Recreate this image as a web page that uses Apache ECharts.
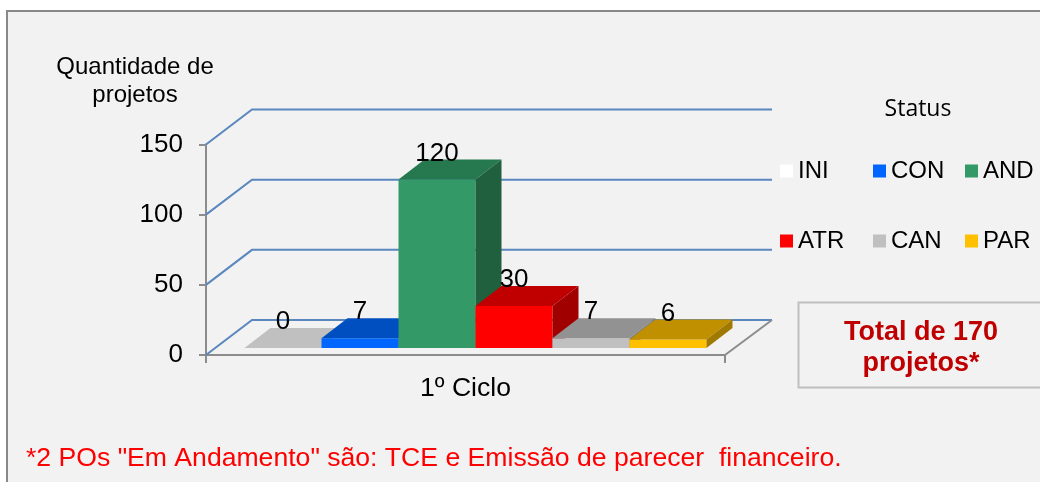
<!DOCTYPE html>
<html><head><meta charset="utf-8">
<style>html,body{margin:0;padding:0;background:#fff}#c{width:1040px;height:482px}</style>
<script src="https://cdn.jsdelivr.net/npm/echarts@6/dist/echarts.min.js"></script>
</head><body><div id="c"></div>
<script>
const categories = ['1º Ciclo'];
const statusNames = ['INI','CON','AND','ATR','CAN','PAR'];
const statusValues = [0,7,120,30,7,6];
const frontColors = ['#ffffff','#0066ff','#339966','#ff0000','#c0c0c0','#ffc000'];
const topColors = ['#c0c0c0','#004fc0','#26784f','#c00000','#929292','#c09000'];
const sideColors = ['#a0a0a0','#003f9a','#20603f','#a00000','#7a7a7a','#a07a00'];
const gridTicks = [0,50,100,150];
const FONT = '"Liberation Sans", Arial, sans-serif';
const WALL_DX = 46, WALL_DY = -35;
const BAR_DX = 26, BAR_DY = -20;
const INSET_DX = 10, INSET_DY = -7;
const BAR_W = 77;
const LINE_BLUE = '#5b87bf', AXIS_GRAY = '#8c8c8c';

function wallItem(params, api) {
  const p = api.coord([0, api.value(1)]);
  const w = api.size([1, 0])[0];
  const x0 = p[0] - w / 2, y = p[1];
  const kids = [{
    type: 'polyline',
    shape: { points: [[x0, y], [x0 + WALL_DX, y + WALL_DY], [x0 + w + WALL_DX + 1, y + WALL_DY]] },
    style: { stroke: LINE_BLUE, lineWidth: 2, fill: null }
  }];
  if (api.value(1) === 0) {
    kids.push({ type: 'line', shape: { x1: x0 + w, y1: y, x2: x0 + w + WALL_DX + 1, y2: y + WALL_DY },
      style: { stroke: AXIS_GRAY, lineWidth: 2 } });
  }
  return { type: 'group', children: kids };
}
function barItem(i) {
  return function (params, api) {
    const v = api.value(1);
    const top = api.coord([0, v]);
    const base = api.coord([0, 0]);
    const x0 = top[0] + (i - 3) * BAR_W + INSET_DX;
    const x1 = x0 + BAR_W;
    const yb = base[1] + INSET_DY, yt = top[1] + INSET_DY;
    const kids = [];
    if (yb - yt > 0.1) kids.push({ type: 'rect', shape: { x: x0, y: yt, width: BAR_W, height: yb - yt }, style: { fill: frontColors[i] } });
    kids.push({ type: 'polygon', shape: { points: [[x0, yt], [x1, yt], [x1 + BAR_DX, yt + BAR_DY], [x0 + BAR_DX, yt + BAR_DY]] }, style: { fill: topColors[i] } });
    if (yb - yt > 0.1) kids.push({ type: 'polygon', shape: { points: [[x1, yt], [x1 + BAR_DX, yt + BAR_DY], [x1 + BAR_DX, yb + BAR_DY], [x1, yb]] }, style: { fill: sideColors[i] } });
    kids.push({ type: 'text', z2: 10, style: { text: String(v), x: (x0 + x1) / 2, y: yt - 26, align: 'center', verticalAlign: 'middle', fill: '#000', font: '26px ' + FONT } });
    return { type: 'group', children: kids };
  };
}
const chart = echarts.init(document.getElementById('c'), null, { renderer: 'canvas' });
const legendBase = { orient: 'vertical', top: 159, itemWidth: 13, itemHeight: 13, itemGap: 46, icon: 'rect', selectedMode: false,
  textStyle: { fontFamily: FONT, fontSize: 24, color: '#000' }, padding: 0 };
const total = ['Total de 170', 'projetos*'].join('\n');
chart.setOption({
  animation: false,
  backgroundColor: '#ffffff',
  grid: { left: 206, right: 315, top: 144.5, bottom: 127 },
  xAxis: { type: 'category', data: categories, boundaryGap: true,
    axisLine: { lineStyle: { color: AXIS_GRAY, width: 2 } },
    axisTick: { show: true, length: 8, alignWithLabel: false, lineStyle: { color: AXIS_GRAY, width: 2 } },
    axisLabel: { color: '#000', fontFamily: FONT, fontSize: 26.6, margin: 20 } },
  yAxis: { type: 'value', min: 0, max: 150, interval: 50, splitLine: { show: false },
    axisLine: { show: true, lineStyle: { color: AXIS_GRAY, width: 2 } },
    axisTick: { show: true, length: 7, lineStyle: { color: AXIS_GRAY, width: 2 } },
    axisLabel: { color: '#000', fontFamily: FONT, fontSize: 26, margin: 23 } },
  legend: [
    Object.assign({}, legendBase, { left: 780, data: ['INI', 'ATR'] }),
    Object.assign({}, legendBase, { left: 873, data: ['CON', 'CAN'] }),
    Object.assign({}, legendBase, { left: 965, data: ['AND', 'PAR'] })
  ],
  graphic: [
    { type: 'rect', z: -10, silent: true, shape: { x: 7, y: 11, width: 1100, height: 560 }, style: { fill: '#f2f2f2', stroke: '#898989', lineWidth: 2 } },
    { type: 'rect', z: -9, silent: true, shape: { x: 798.5, y: 302.5, width: 300, height: 85 }, style: { fill: '#f2f2f2', stroke: '#bfbfbf', lineWidth: 2 } },
    { type: 'text', z: 5, style: { text: total, x: 921, y: 348, align: 'center', verticalAlign: 'middle', fill: '#c00000', font: 'bold 27px ' + FONT, lineHeight: 31 } },
    { type: 'text', z: 5, style: { text: 'Quantidade de\nprojetos', x: 135, y: 81, align: 'center', verticalAlign: 'middle', fill: '#000', font: '24px ' + FONT, lineHeight: 28 } },
    { type: 'text', z: 5, style: { text: 'Status', x: 918, y: 109, align: 'center', verticalAlign: 'middle', fill: '#000', font: '23px "Open Sans", sans-serif' } },
    { type: 'text', z: 5, style: { text: '*2 POs "Em Andamento" são: TCE e Emissão de parecer  financeiro.', x: 26, y: 459, align: 'left', verticalAlign: 'middle', fill: '#ff0000', font: '26.6px ' + FONT } }
  ],
  series: [
    { type: 'custom', name: 'wall', z: 1, silent: true, renderItem: wallItem, encode: { x: 0, y: 1 }, data: gridTicks.map(t => [0, t]) }
  ].concat(statusNames.map((n, i) => ({
    type: 'custom', name: n, z: 3 + i, silent: true, itemStyle: { color: frontColors[i] },
    renderItem: barItem(i), encode: { x: 0, y: 1 }, data: [[0, statusValues[i]]]
  })))
});
</script></body></html>
